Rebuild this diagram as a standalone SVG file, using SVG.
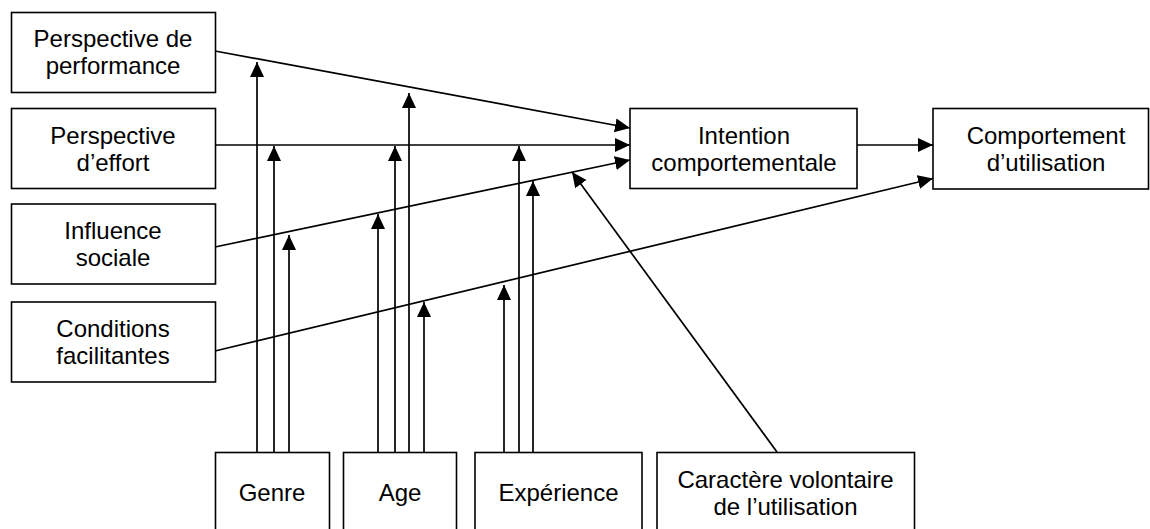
<svg xmlns="http://www.w3.org/2000/svg" width="1150" height="529" viewBox="0 0 1150 529">
<defs>
<style>
.box{fill:#fff;stroke:#000;stroke-width:1.6}
.t{font-family:"Liberation Sans",Arial,Helvetica,sans-serif;font-size:24px;fill:#000;text-anchor:middle}
.c{stroke:#000;stroke-width:1.7;fill:none;marker-end:url(#ah)}
</style>
<marker id="ah" markerUnits="userSpaceOnUse" markerWidth="16" markerHeight="15" refX="15" refY="7" orient="auto" viewBox="0 0 16 15">
<path d="M0,0 L15,7 L0,14 Z" fill="#000"/>
</marker>
</defs>
<rect width="1150" height="529" fill="#fff"/>
<g id="connectors">
<line class="c" x1="215" y1="51" x2="630" y2="128"/>
<line class="c" x1="215" y1="145" x2="630" y2="145"/>
<line class="c" x1="215" y1="247" x2="630" y2="160"/>
<line class="c" x1="215" y1="351" x2="933" y2="178.5"/>
<line class="c" x1="857" y1="145" x2="933" y2="145"/>
<line class="c" x1="777" y1="452" x2="572" y2="172"/>
<line class="c" x1="257" y1="452" x2="257" y2="62"/>
<line class="c" x1="274" y1="452" x2="274" y2="146"/>
<line class="c" x1="289" y1="452" x2="289" y2="235"/>
<line class="c" x1="378" y1="452" x2="378" y2="214"/>
<line class="c" x1="395" y1="452" x2="395" y2="146"/>
<line class="c" x1="409" y1="452" x2="409" y2="93"/>
<line class="c" x1="424" y1="452" x2="424" y2="302"/>
<line class="c" x1="504" y1="452" x2="504" y2="285"/>
<line class="c" x1="519" y1="452" x2="519" y2="146"/>
<line class="c" x1="533" y1="452" x2="533" y2="181"/>
</g>
<g id="perf">
<rect class="box" x="11.5" y="12.5" width="204" height="80"/>
<text class="t" x="113" y="47">Perspective de</text>
<text class="t" x="113" y="74">performance</text>
</g>
<g id="effort">
<rect class="box" x="11.5" y="108.5" width="204" height="80"/>
<text class="t" x="113" y="143.5">Perspective</text>
<text class="t" x="113" y="170.5">d’effort</text>
</g>
<g id="social">
<rect class="box" x="11.5" y="204" width="204" height="80"/>
<text class="t" x="113" y="239">Influence</text>
<text class="t" x="113" y="266">sociale</text>
</g>
<g id="conditions">
<rect class="box" x="11.5" y="302" width="204" height="80"/>
<text class="t" x="113" y="337">Conditions</text>
<text class="t" x="113" y="364">facilitantes</text>
</g>
<g id="intention">
<rect class="box" x="630" y="108.5" width="227" height="80"/>
<text class="t" x="744" y="143.5">Intention</text>
<text class="t" x="744" y="170.5">comportementale</text>
</g>
<g id="comportement">
<rect class="box" x="933" y="108.5" width="215.5" height="80.5"/>
<text class="t" x="1046" y="143.5">Comportement</text>
<text class="t" x="1046" y="170.5">d’utilisation</text>
</g>
<g id="genre">
<rect class="box" x="215.5" y="452.5" width="114" height="81"/>
<text class="t" x="272" y="501">Genre</text>
</g>
<g id="age">
<rect class="box" x="343.5" y="452.5" width="113" height="81"/>
<text class="t" x="400" y="501">Age</text>
</g>
<g id="experience">
<rect class="box" x="475" y="452.5" width="167" height="81"/>
<text class="t" x="558.5" y="501">Expérience</text>
</g>
<g id="volontaire">
<rect class="box" x="657" y="452.5" width="257.5" height="81"/>
<text class="t" x="785.5" y="487.5">Caractère volontaire</text>
<text class="t" x="785.5" y="514.5">de l’utilisation</text>
</g>
</svg>
